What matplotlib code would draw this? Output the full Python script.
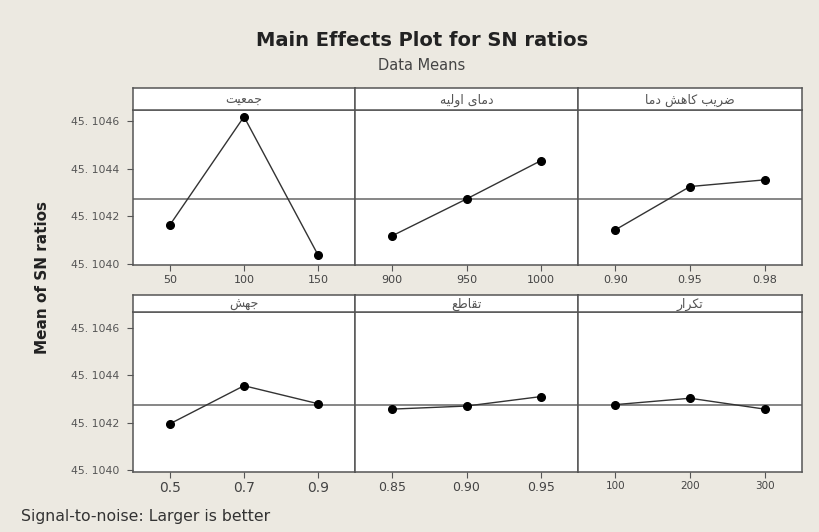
import matplotlib
matplotlib.use("Agg")
import matplotlib.pyplot as plt
from matplotlib.ticker import FuncFormatter

# ---------------- data ----------------
factor_names = ["جمعیت", "دمای اولیه", "ضریب کاهش دما", "جهش", "تقاطع", "تکرار"]
level_labels = [
    ["50", "100", "150"],
    ["900", "950", "1000"],
    ["0.90", "0.95", "0.98"],
    ["0.5", "0.7", "0.9"],
    ["0.85", "0.90", "0.95"],
    ["100", "200", "300"],
]
sn_means = [
    [45.104165, 45.104617, 45.104039],
    [45.104119, 45.104273, 45.104433],
    [45.104144, 45.104325, 45.104353],
    [45.104195, 45.104356, 45.104280],
    [45.104257, 45.104270, 45.104310],
    [45.104276, 45.104303, 45.104257],
]
overall_mean = 45.104274
y_ticks = [45.1040, 45.1042, 45.1044, 45.1046]

# ------------- simple Persian shaping (presentation forms, visual RTL order) -------------
FORMS = {  # iso, fin, ini, med
    "ا": ("\uFE8D", "\uFE8E", None, None),
    "ب": ("\uFE8F", "\uFE90", "\uFE91", "\uFE92"),
    "ت": ("\uFE95", "\uFE96", "\uFE97", "\uFE98"),
    "ج": ("\uFE9D", "\uFE9E", "\uFE9F", "\uFEA0"),
    "د": ("\uFEA9", "\uFEAA", None, None),
    "ر": ("\uFEAD", "\uFEAE", None, None),
    "ش": ("\uFEB5", "\uFEB6", "\uFEB7", "\uFEB8"),
    "ض": ("\uFEBD", "\uFEBE", "\uFEBF", "\uFEC0"),
    "ط": ("\uFEC1", "\uFEC2", "\uFEC3", "\uFEC4"),
    "ع": ("\uFEC9", "\uFECA", "\uFECB", "\uFECC"),
    "ق": ("\uFED5", "\uFED6", "\uFED7", "\uFED8"),
    "ل": ("\uFEDD", "\uFEDE", "\uFEDF", "\uFEE0"),
    "م": ("\uFEE1", "\uFEE2", "\uFEE3", "\uFEE4"),
    "ه": ("\uFEE9", "\uFEEA", "\uFEEB", "\uFEEC"),
    "و": ("\uFEED", "\uFEEE", None, None),
    "ی": ("\uFBFC", "\uFBFD", "\uFBFE", "\uFBFF"),
    "ک": ("\uFB8E", "\uFB8F", "\uFB90", "\uFB91"),
}


def shape(text):
    out = []
    chars = list(text)
    for i, c in enumerate(chars):
        if c not in FORMS:
            out.append(c)
            continue
        f = FORMS[c]
        prev = chars[i - 1] if i > 0 else None
        nxt = chars[i + 1] if i + 1 < len(chars) else None
        joins_prev = prev in FORMS and FORMS[prev][2] is not None
        joins_next = nxt in FORMS and f[2] is not None
        if joins_prev and joins_next:
            out.append(f[3])
        elif joins_prev:
            out.append(f[1])
        elif joins_next:
            out.append(f[2])
        else:
            out.append(f[0])
    return "".join(reversed(out))


# ---------------- figure ----------------
W, H = 819, 532
bg = "#ECE9E1"
edge = "#555555"
fig = plt.figure(figsize=(W / 100, H / 100), dpi=100, facecolor=bg)

col_x = [133, 355, 578, 802]
rows = [  # strip top, strip bottom, axes bottom, ylim
    (88, 110, 265, (45.103997, 45.104645)),
    (295, 312, 471.5, (45.103993, 45.104668)),
]
xtick_sizes = [8, 8, 8, 10, 9, 7.5]


def fx(px):
    return px / W


def fy(py):
    return 1 - py / H


for k in range(6):
    r, c = divmod(k, 3)
    st, sb, ab, ylim = rows[r]
    x0, x1 = col_x[c], col_x[c + 1]
    ax = fig.add_axes([fx(x0), fy(ab), fx(x1) - fx(x0), fy(sb) - fy(ab)])
    ax.set_facecolor("white")
    xs = [1, 2, 3]
    ax.axhline(overall_mean, color="#666666", lw=1.1, zorder=1)
    ax.plot(xs, sn_means[k], color="#333333", lw=1.0, marker="o",
            markersize=5.5, markerfacecolor="black", markeredgecolor="black", zorder=3)
    ax.set_xlim(0.5, 3.5)
    ax.set_ylim(*ylim)
    ax.set_xticks(xs)
    ax.set_xticklabels(level_labels[k], fontsize=xtick_sizes[k], color="#444444")
    ax.tick_params(axis="x", direction="out", length=4, width=0.8, color=edge, pad=3)
    ax.set_yticks(y_ticks)
    if c == 0:
        ax.yaxis.set_major_formatter(FuncFormatter(lambda v, p: f"{v:.4f}".replace(".", ". ")))
        ax.tick_params(axis="y", direction="out", length=4, width=0.8, color=edge,
                       labelsize=7.8, labelcolor="#555555", pad=6)
    else:
        ax.tick_params(axis="y", left=False, labelleft=False)
    for s in ax.spines.values():
        s.set_color(edge)
        s.set_linewidth(1.1)

    sax = fig.add_axes([fx(x0), fy(sb), fx(x1) - fx(x0), fy(st) - fy(sb)])
    sax.set_facecolor("white")
    sax.set_xticks([])
    sax.set_yticks([])
    for s in sax.spines.values():
        s.set_color(edge)
        s.set_linewidth(1.1)
    sax.text(0.5, 0.45, shape(factor_names[k]), transform=sax.transAxes,
             ha="center", va="center", fontsize=9, color="#555555",
             family=["DejaVu Sans"])

fig.text(fx(422), fy(40), "Main Effects Plot for SN ratios", ha="center", va="center",
         fontsize=14, fontweight="bold", color="#222222")
fig.text(fx(422), fy(65), "Data Means", ha="center", va="center",
         fontsize=10.5, color="#444444")
fig.text(fx(43), fy(278), "Mean of SN ratios", ha="center", va="center",
         rotation=90, fontsize=11, fontweight="bold", color="#222222")
fig.text(fx(21), fy(517), "Signal-to-noise: Larger is better", ha="left", va="center",
         fontsize=11.3, color="#333333")

fig.savefig("out.png", dpi=100, facecolor=bg)
